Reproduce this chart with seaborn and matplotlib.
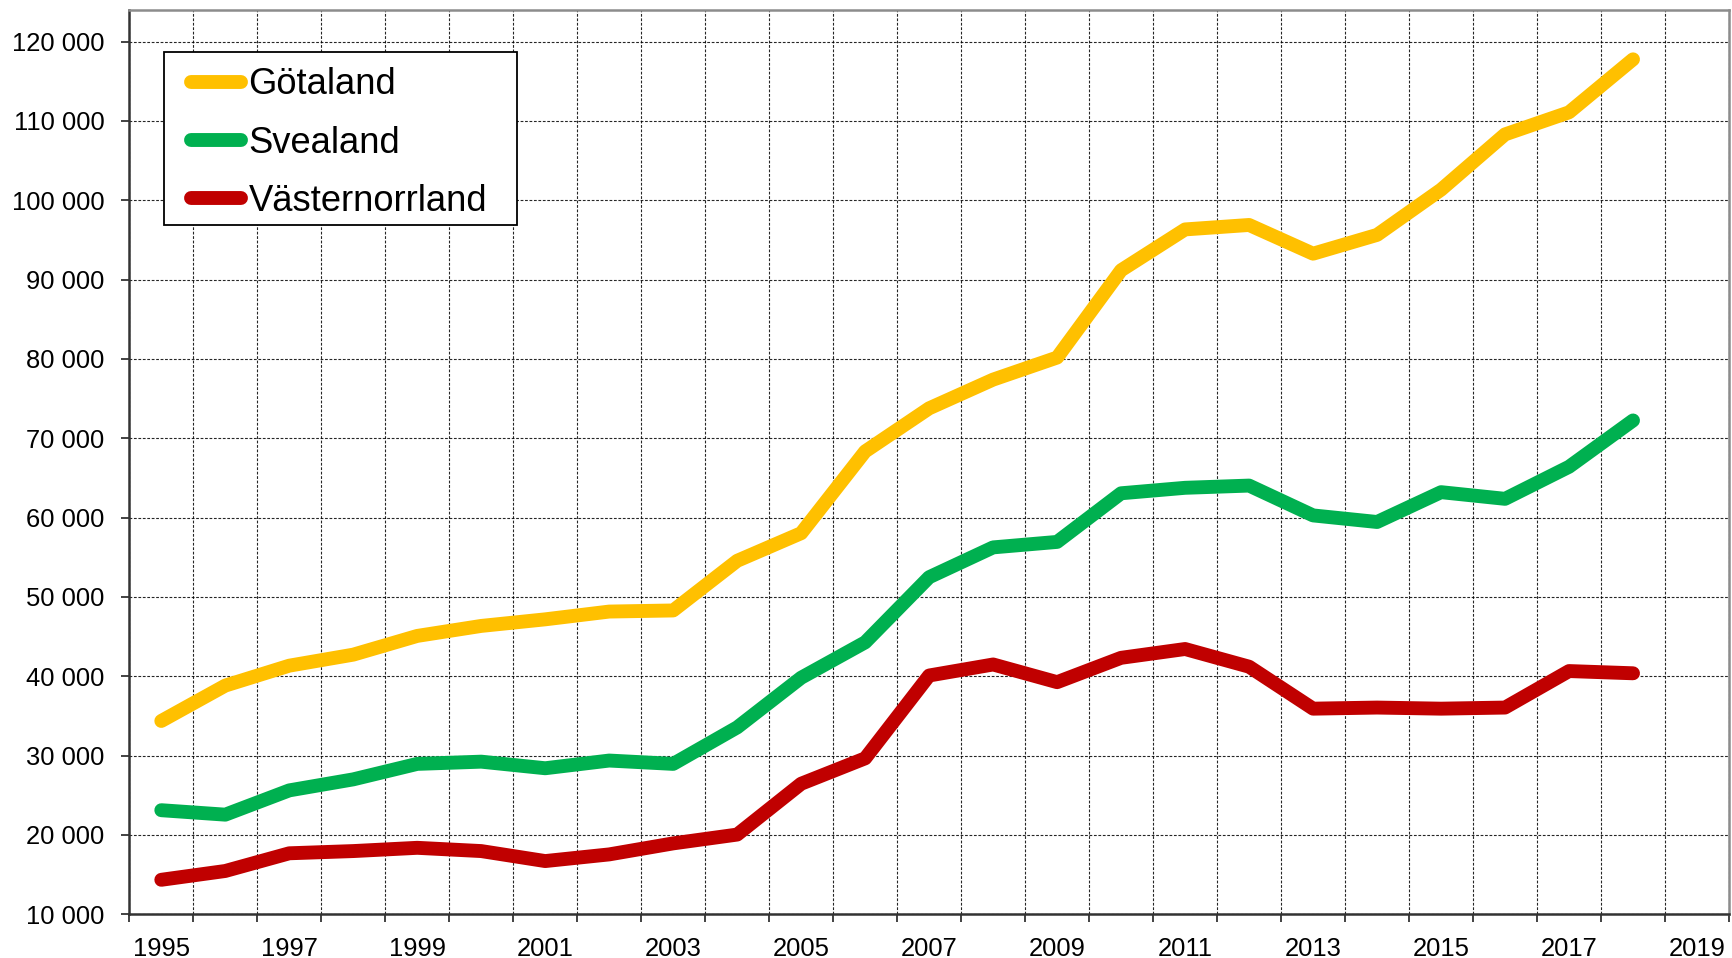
import numpy as np
import pandas as pd
import matplotlib
matplotlib.use('Agg')
import matplotlib.pyplot as plt
import seaborn as sns
from matplotlib.ticker import FuncFormatter, FixedLocator
from matplotlib.lines import Line2D
from matplotlib.legend_handler import HandlerLine2D
from matplotlib.patches import Rectangle

years = list(range(1995, 2019))
gotaland = [34370, 38830, 41340, 42730, 45090, 46350, 47180, 48160, 48300, 54560,
            58040, 68350, 73780, 77400, 80180, 91180, 96330, 96890, 93270, 95640,
            101340, 108310, 111090, 117770]
svealand = [23120, 22560, 25620, 27010, 28960, 29240, 28410, 29380, 28960, 33560,
            39820, 44280, 52490, 56250, 56940, 63070, 63760, 64040, 60280, 59450,
            63210, 62370, 66410, 72250]
vasternorrland = [14350, 15460, 17690, 17970, 18380, 17970, 16710, 17550, 18940, 20050,
                  26460, 29660, 40100, 41490, 39260, 42330, 43440, 41210, 35920, 36060,
                  35920, 36060, 40660, 40380]
series_names = ['Götaland', 'Svealand', 'Västernorrland']
colors = ['#FFC000', '#00B050', '#C00000']
label_years = list(range(1995, 2020, 2))
y_ticks = list(range(10000, 130000, 10000))

df = pd.DataFrame({
    'year': years * 3,
    'value': gotaland + svealand + vasternorrland,
    'region': sum([[n] * len(years) for n in series_names], []),
})

sns.set_style('white')
plt.rcParams['font.family'] = ['Liberation Sans', 'DejaVu Sans']

W, H = 1733, 958
fig = plt.figure(figsize=(W / 100, H / 100), dpi=100)
x0, x1 = 129.3 / W, 1729 / W
y0, y1 = 1 - 914.3 / H, 1 - 9.9 / H
ax = fig.add_axes([x0, y0, x1 - x0, y1 - y0])

sns.lineplot(data=df, x='year', y='value', hue='region', palette=colors,
             hue_order=series_names, linewidth=10, solid_capstyle='round',
             ax=ax, zorder=3)

ax.set_xlim(1994.5, 2019.5)
ax.set_ylim(10000, 124000)

# gridlines sit on the year boundaries, labels in between
ax.xaxis.set_major_locator(FixedLocator(np.arange(1994.5, 2020, 1)))
ax.xaxis.set_major_formatter(FuncFormatter(lambda v, p: ''))
ax.xaxis.set_minor_locator(FixedLocator(label_years))
ax.xaxis.set_minor_formatter(FuncFormatter(lambda v, p: f'{int(round(v))}'))
ax.tick_params(axis='x', which='major', direction='out', length=6, width=1.2,
               color='#222222', bottom=True)
ax.tick_params(axis='x', which='minor', length=0, pad=16, labelsize=18.4,
               labelcolor='black', bottom=True)

ax.set_yticks(y_ticks)
ax.yaxis.set_major_formatter(FuncFormatter(lambda v, p: f'{int(v):,}'.replace(',', ' ')))
ax.tick_params(axis='y', direction='out', length=6, width=1.2, color='#222222',
               pad=12, labelsize=18.4, labelcolor='black', left=True)

ax.grid(True, which='major', color='black', linestyle=(0, (2.5, 1.5)), linewidth=0.8,
        alpha=0.85, zorder=0)
ax.set_axisbelow(True)
ax.set_xlabel('')
ax.set_ylabel('')

for side in ['left', 'bottom']:
    ax.spines[side].set_color('#333333')
    ax.spines[side].set_linewidth(1.8)
for side in ['top', 'right']:
    ax.spines[side].set_color('#8c8c8c')
    ax.spines[side].set_linewidth(1.8)

# legend box drawn separately so it can be wider than the entries need
box_l, box_t, box_r, box_b = 164.3, 52, 516.7, 225.3
frame = Rectangle((box_l / W, 1 - box_b / H), (box_r - box_l) / W, (box_b - box_t) / H,
                  transform=fig.transFigure, facecolor='white', edgecolor='black',
                  linewidth=1.3, zorder=4, clip_on=False)
ax.add_artist(frame)

handles, labels = ax.get_legend_handles_labels()
leg = ax.legend(handles, labels, loc='upper left',
                bbox_to_anchor=(box_l / W, 1 - box_t / H), bbox_transform=fig.transFigure,
                borderaxespad=0, frameon=False, fontsize=26.2,
                handlelength=1.68, handletextpad=0.21, borderpad=0.42,
                labelspacing=0.64,
                handler_map={Line2D: HandlerLine2D(xpad=0.32)})
leg.set_zorder(5)
for text in leg.get_texts():
    text.set_color('black')
for line in leg.get_lines():
    line.set_linewidth(10)
    line.set_solid_capstyle('round')

fig.savefig('out.png', dpi=100)
